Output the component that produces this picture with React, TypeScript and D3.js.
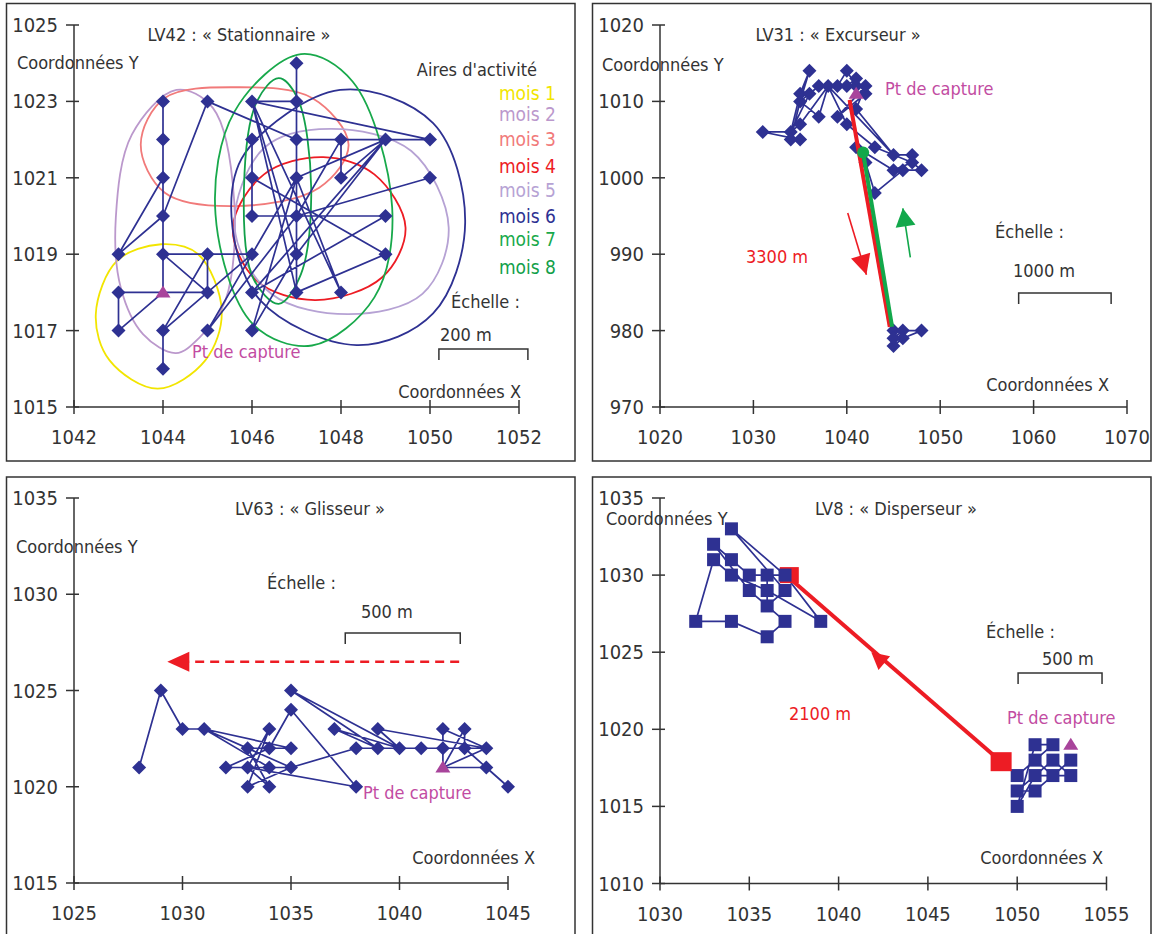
import React from 'react';
import * as d3 from 'd3';

type Pt = [number, number];

// ---------- LV42 : « Stationnaire » ----------
const lv42XTicks = [1042, 1044, 1046, 1048, 1050, 1052];
const lv42YTicks = [1015, 1017, 1019, 1021, 1023, 1025];
const lv42Capture: Pt = [1044, 1018];
const lv42Track: Pt[] = [
  [1044, 1016], [1044, 1017], [1045, 1019], [1045, 1018], [1043, 1018], [1043, 1017], [1044, 1018],
  [1044, 1019], [1045, 1018], [1044, 1017], [1046, 1019], [1044, 1019], [1044, 1020], [1043, 1019],
  [1044, 1021], [1044, 1022], [1044, 1023], [1044, 1020], [1045, 1023], [1047, 1022], [1049, 1022],
  [1050, 1022], [1046, 1023], [1047, 1023], [1047, 1024], [1047, 1018], [1049, 1019], [1046, 1021],
  [1046, 1022], [1046, 1020], [1049, 1020], [1046, 1018], [1049, 1022], [1047, 1019], [1046, 1023],
  [1048, 1018], [1047, 1021], [1049, 1022], [1048, 1021], [1048, 1022], [1047, 1020], [1050, 1021],
  [1047, 1020], [1045, 1017], [1047, 1021], [1046, 1017], [1047, 1019], [1046, 1023], [1047, 1018],
];
const lv42Months = ['mois 1', 'mois 2', 'mois 3', 'mois 4', 'mois 5', 'mois 6', 'mois 7', 'mois 8'];
// activity area outlines, one per month (data coordinates)
const lv42Areas: Pt[][] = [
  [[1043.96, 1019.26], [1044.79, 1019.0], [1045.32, 1017.52], [1044.95, 1016.22], [1043.88, 1015.48], [1042.8, 1016.22], [1042.49, 1017.43], [1042.97, 1018.83]],
  [[1044.3, 1023.3], [1045.12, 1022.83], [1045.6, 1020.39], [1045.4, 1017.78], [1044.83, 1016.83], [1044.29, 1016.41], [1043.55, 1016.91], [1043.05, 1018.13], [1042.94, 1019.96], [1043.3, 1022.13]],
  [[1043.5, 1021.87], [1044.04, 1023.09], [1045.69, 1023.37], [1047.35, 1023.09], [1048.17, 1021.87], [1047.51, 1020.74], [1045.61, 1020.26], [1044.04, 1020.61]],
  [[1045.57, 1019.7], [1046.27, 1021.09], [1047.6, 1021.54], [1048.75, 1021.09], [1049.45, 1019.7], [1048.92, 1018.39], [1047.43, 1017.8], [1046.11, 1018.3]],
  [[1045.61, 1019.7], [1046.27, 1021.78], [1047.76, 1022.28], [1049.58, 1021.7], [1050.42, 1019.7], [1049.83, 1017.96], [1048.17, 1017.43], [1046.44, 1017.96]],
  [[1045.54, 1019.98], [1045.84, 1021.64], [1047.98, 1023.3], [1050.07, 1022.43], [1050.79, 1019.82], [1050.07, 1017.45], [1048.35, 1016.62], [1046.18, 1017.8]],
  [[1047.1, 1024.24], [1048.26, 1023.52], [1049.15, 1020.22], [1048.75, 1017.87], [1047.35, 1016.61], [1046.02, 1017.17], [1045.18, 1020.04], [1045.61, 1022.74]],
  [[1046.6, 1023.61], [1047.02, 1023.09], [1047.33, 1020.74], [1047.1, 1018.48], [1046.6, 1017.7], [1046.02, 1018.39], [1045.82, 1020.74], [1046.11, 1023.0]],
];

// ---------- LV31 : « Excurseur » ----------
const lv31XTicks = [1020, 1030, 1040, 1050, 1060, 1070];
const lv31YTicks = [970, 980, 990, 1000, 1010, 1020];
const lv31Capture: Pt = [1041, 1011];
const lv31TrackNorth: Pt[] = [
  [1041, 1012], [1040, 1014], [1039, 1012], [1037, 1012], [1035, 1010], [1036, 1014], [1035, 1011],
  [1034, 1006], [1031, 1006], [1035, 1005], [1034, 1005], [1035, 1010], [1037, 1008], [1038, 1012],
  [1035, 1007], [1034, 1006], [1036, 1011], [1037, 1012], [1040, 1012], [1041, 1013], [1042, 1011],
  [1039, 1008], [1042, 1012], [1041, 1009], [1045, 1003], [1047, 1003], [1047, 1002], [1045, 1001],
  [1041, 1004], [1042, 1002], [1043, 998], [1046, 1001], [1048, 1001], [1047, 1002], [1043, 1004],
  [1040, 1007], [1038, 1012], [1045, 1003],
];
const lv31TrackSouth: Pt[] = [[1045, 980], [1046, 980], [1048, 980], [1046, 979], [1045, 978], [1045, 979], [1046, 980]];
const lv31Outbound: Pt[] = [[1040.3, 1010.2], [1044.6, 980.5]];
const lv31Return: Pt[] = [[1044.85, 980.5], [1041.75, 1003.3]];
const lv31OutArrow: Pt[] = [[1040.1, 995.4], [1042.1, 987.3]];
const lv31BackArrow: Pt[] = [[1046.8, 989.6], [1046.0, 996.0]];
const lv31ScaleBar: Pt = [1058.4, 1068.3];

// ---------- LV63 : « Glisseur » ----------
const lv63XTicks = [1025, 1030, 1035, 1040, 1045];
const lv63YTicks = [1015, 1020, 1025, 1030, 1035];
const lv63Capture: Pt = [1042, 1021];
const lv63Track: Pt[] = [
  [1028, 1021], [1029, 1025], [1030, 1023], [1031, 1023], [1035, 1022], [1033, 1022], [1034, 1020],
  [1033, 1021], [1034, 1023], [1033, 1020], [1035, 1021], [1031, 1023], [1034, 1021], [1032, 1021],
  [1034, 1022], [1035, 1024], [1038, 1020], [1033, 1021], [1035, 1021], [1038, 1022], [1039, 1022],
  [1040, 1022], [1041, 1022], [1042, 1022], [1044, 1022], [1042, 1021], [1044, 1021], [1045, 1020],
  [1043, 1022], [1043, 1023], [1042, 1021], [1042, 1023], [1044, 1022], [1039, 1023], [1040, 1022],
  [1035, 1025], [1039, 1022], [1037, 1023], [1040, 1022],
];
const lv63Drift: Pt[] = [[1042.75, 1026.5], [1029.3, 1026.5]];
const lv63ScaleBar: Pt = [1037.5, 1042.8];

// ---------- LV8 : « Disperseur » ----------
const lv8XTicks = [1030, 1035, 1040, 1045, 1050, 1055];
const lv8YTicks = [1010, 1015, 1020, 1025, 1030, 1035];
const lv8Capture: Pt = [1053, 1019];
const lv8TrackNorth: Pt[] = [
  [1034, 1027], [1032, 1027], [1033, 1031], [1034, 1030], [1036, 1029], [1039, 1027], [1037, 1030],
  [1034, 1033], [1037, 1029], [1036, 1028], [1035, 1029], [1033, 1032], [1034, 1031], [1035, 1030],
  [1036, 1030], [1037, 1030], [1036, 1030], [1036, 1028], [1037, 1027], [1036, 1026], [1034, 1027],
];
const lv8TrackSouth: Pt[] = [
  [1049, 1018], [1050, 1017], [1051, 1018], [1052, 1017], [1053, 1018], [1051, 1016], [1050, 1016],
  [1052, 1018], [1053, 1017], [1051, 1017], [1050, 1015], [1051, 1019], [1052, 1019], [1051, 1018],
];
const lv8Dispersal: Pt[] = [[1049.1, 1017.9], [1037.1, 1030]];
const lv8ArrowTip: Pt = [1041.83, 1025.0];
const lv8ScaleBar: Pt = [1050.05, 1054.75];

// ---------- styles ----------
const FONT = "'DejaVu Sans Condensed', 'DejaVu Sans', sans-serif";
const INK = '#333333';
const NAVY = '#2e3192';
const MAG_MARK = '#a8449b';
const MAG_TEXT = '#c24ca2';
const RED = '#ed1c24';
const GREEN = '#12a84b';
const MONTH_COLORS = ['#f2e500', '#bb98cc', '#f17a7a', '#ed1c24', '#b6a2d4', '#2e3192', '#18a94b', '#12a04a'];
const MONTH_Y = [93, 114, 139, 166, 190, 216, 239, 267];

const DIAMOND = 'M0,-7L7,0L0,7L-7,0Z';
const TRIANGLE = 'M0,-7L7.5,5L-7.5,5Z';

type Scale = d3.ScaleLinear<number, number>;

const key = (p: Pt) => p.join(',');
const vertices = (tracks: Pt[][], skip: Pt[]) => {
  const seen = new Set(skip.map(key));
  const out: Pt[] = [];
  tracks.flat().forEach(p => {
    if (!seen.has(key(p))) { seen.add(key(p)); out.push(p); }
  });
  return out;
};

function Axes({ x, y, xTicks, yTicks }: { x: Scale; y: Scale; xTicks: number[]; yTicks: number[] }) {
  const ax = x(xTicks[0]);
  const ay = y(yTicks[0]);
  return (
    <g stroke={INK} strokeWidth={1.5}>
      <line x1={ax} x2={x(xTicks[xTicks.length - 1])} y1={ay} y2={ay} />
      <line x1={ax} x2={ax} y1={y(yTicks[yTicks.length - 1])} y2={ay} />
      {xTicks.map(t => (
        <g key={'x' + t}>
          <line x1={x(t)} x2={x(t)} y1={ay - 7} y2={ay + 7} />
          <text x={x(t)} y={ay + 37} textAnchor="middle" fontSize={20} fill={INK} stroke="none">{t}</text>
        </g>
      ))}
      {yTicks.map(t => (
        <g key={'y' + t}>
          <line x1={ax - 8} x2={ax + 5} y1={y(t)} y2={y(t)} />
          <text x={ax - 16} y={y(t) + 7} textAnchor="end" fontSize={20} fill={INK} stroke="none">{t}</text>
        </g>
      ))}
    </g>
  );
}

function ScaleBar({ x0, x1, y }: { x0: number; x1: number; y: number }) {
  return (
    <path d={`M${x0},${y + 11}V${y}H${x1}V${y + 11}`} fill="none" stroke={INK} strokeWidth={1.5} />
  );
}

function Head({ tip, from, len, half, fill }: { tip: Pt; from: Pt; len: number; half: number; fill: string }) {
  const dx = tip[0] - from[0];
  const dy = tip[1] - from[1];
  const d = Math.hypot(dx, dy);
  const ux = dx / d, uy = dy / d;
  const bx = tip[0] - ux * len, by = tip[1] - uy * len;
  return <polygon points={`${tip[0]},${tip[1]} ${bx - uy * half},${by + ux * half} ${bx + uy * half},${by - ux * half}`} fill={fill} />;
}

const Frame = ({ x0, y0, x1, y1 }: { x0: number; y0: number; x1: number; y1: number }) => (
  <rect x={x0} y={y0} width={x1 - x0} height={y1 - y0} fill="none" stroke={INK} strokeWidth={1.5} />
);

function trackPath(x: Scale, y: Scale) {
  return d3.line<Pt>().x(d => x(d[0])).y(d => y(d[1]));
}

const Diamonds = ({ pts, x, y }: { pts: Pt[]; x: Scale; y: Scale }) => (
  <g fill={NAVY}>
    {pts.map((p, i) => <path key={i} d={DIAMOND} transform={`translate(${x(p[0])},${y(p[1])})`} />)}
  </g>
);

function PanelLV42() {
  const x = d3.scaleLinear().domain([1042, 1052]).range([74, 519]);
  const y = d3.scaleLinear().domain([1015, 1025]).range([407, 25]);
  const line = trackPath(x, y);
  const area = d3.line<Pt>().x(d => x(d[0])).y(d => y(d[1])).curve(d3.curveCatmullRomClosed.alpha(0.5));
  return (
    <g>
      <Frame x0={6.5} y0={3.5} x1={575} y1={461} />
      <Axes x={x} y={y} xTicks={lv42XTicks} yTicks={lv42YTicks} />
      {lv42Areas.map((a, i) => (
        <path key={i} d={area(a) || ''} fill="none" stroke={MONTH_COLORS[i]} strokeWidth={1.8} />
      ))}
      <path d={line(lv42Track) || ''} fill="none" stroke={NAVY} strokeWidth={1.7} strokeLinejoin="round" />
      <Diamonds pts={vertices([lv42Track], [lv42Capture])} x={x} y={y} />
      <path d={TRIANGLE} fill={MAG_MARK} transform={`translate(${x(lv42Capture[0])},${y(lv42Capture[1])})`} />
      <text x={239} y={41} textAnchor="middle" fontSize={18}>LV42 : « Stationnaire »</text>
      <text x={17} y={69} fontSize={18}>Coordonnées Y</text>
      <text x={537} y={76} textAnchor="end" fontSize={18}>Aires d'activité</text>
      {lv42Months.map((m, i) => (
        <text key={m} x={556} y={MONTH_Y[i] + 7} textAnchor="end" fontSize={19} fill={MONTH_COLORS[i]}>{m}</text>
      ))}
      <text x={192} y={358} fontSize={18} fill={MAG_TEXT}>Pt de capture</text>
      <text x={451} y={308} fontSize={18}>Échelle :</text>
      <text x={440} y={341} fontSize={18}>200 m</text>
      <ScaleBar x0={x(1050.2)} x1={x(1052.2)} y={349} />
      <text x={521} y={398} textAnchor="end" fontSize={18}>Coordonnées X</text>
    </g>
  );
}

function PanelLV31() {
  const x = d3.scaleLinear().domain([1020, 1070]).range([660, 1127]);
  const y = d3.scaleLinear().domain([970, 1020]).range([407, 25]);
  const line = trackPath(x, y);
  const P = (p: Pt): Pt => [x(p[0]), y(p[1])];
  return (
    <g>
      <Frame x0={592.5} y0={3.5} x1={1151} y1={461} />
      <Axes x={x} y={y} xTicks={lv31XTicks} yTicks={lv31YTicks} />
      <path d={line(lv31TrackNorth) || ''} fill="none" stroke={NAVY} strokeWidth={1.7} strokeLinejoin="round" />
      <path d={line(lv31TrackSouth) || ''} fill="none" stroke={NAVY} strokeWidth={1.7} strokeLinejoin="round" />
      <Diamonds pts={vertices([lv31TrackNorth, lv31TrackSouth], [lv31Capture])} x={x} y={y} />
      <path d={line(lv31Outbound) || ''} stroke={RED} strokeWidth={4} />
      <path d={line(lv31Return) || ''} stroke={GREEN} strokeWidth={4} />
      <circle cx={x(lv31Return[1][0])} cy={y(lv31Return[1][1])} r={6} fill={GREEN} />
      <path d={TRIANGLE} fill={MAG_MARK} transform={`translate(${x(lv31Capture[0])},${y(lv31Capture[1])})`} />
      <line x1={P(lv31OutArrow[0])[0]} y1={P(lv31OutArrow[0])[1]} x2={P(lv31OutArrow[1])[0]} y2={P(lv31OutArrow[1])[1]} stroke={RED} strokeWidth={1.6} />
      <Head tip={P(lv31OutArrow[1])} from={P(lv31OutArrow[0])} len={20} half={10} fill={RED} />
      <line x1={P(lv31BackArrow[0])[0]} y1={P(lv31BackArrow[0])[1]} x2={P(lv31BackArrow[1])[0]} y2={P(lv31BackArrow[1])[1]} stroke={GREEN} strokeWidth={1.6} />
      <Head tip={P(lv31BackArrow[1])} from={P(lv31BackArrow[0])} len={18} half={10} fill={GREEN} />
      <text x={838} y={41} textAnchor="middle" fontSize={18}>LV31 : « Excurseur »</text>
      <text x={602} y={71} fontSize={18}>Coordonnées Y</text>
      <text x={885} y={95} fontSize={18} fill={MAG_TEXT}>Pt de capture</text>
      <text x={746} y={263} fontSize={18} fill={RED}>3300 m</text>
      <text x={995} y={238} fontSize={18}>Échelle :</text>
      <text x={1013} y={277} fontSize={18}>1000 m</text>
      <ScaleBar x0={x(lv31ScaleBar[0])} x1={x(lv31ScaleBar[1])} y={293} />
      <text x={1109} y={391} textAnchor="end" fontSize={18}>Coordonnées X</text>
    </g>
  );
}

function PanelLV63() {
  const x = d3.scaleLinear().domain([1025, 1045]).range([74, 508]);
  const y = d3.scaleLinear().domain([1015, 1035]).range([883, 498]);
  const line = trackPath(x, y);
  const tail: Pt = [x(lv63Drift[0][0]), y(lv63Drift[0][1])];
  const tip: Pt = [x(lv63Drift[1][0]), y(lv63Drift[1][1])];
  return (
    <g>
      <Frame x0={6.5} y0={477} x1={575} y1={945} />
      <Axes x={x} y={y} xTicks={lv63XTicks} yTicks={lv63YTicks} />
      <path d={line(lv63Track) || ''} fill="none" stroke={NAVY} strokeWidth={1.7} strokeLinejoin="round" />
      <Diamonds pts={vertices([lv63Track], [lv63Capture])} x={x} y={y} />
      <path d={TRIANGLE} fill={MAG_MARK} transform={`translate(${x(lv63Capture[0])},${y(lv63Capture[1])})`} />
      <line x1={tail[0]} y1={tail[1]} x2={tip[0] + 20} y2={tip[1]} stroke={RED} strokeWidth={2.5} strokeDasharray="9,6" />
      <Head tip={tip} from={tail} len={22} half={10} fill={RED} />
      <text x={310} y={515} textAnchor="middle" fontSize={18}>LV63 : « Glisseur »</text>
      <text x={16} y={553} fontSize={18}>Coordonnées Y</text>
      <text x={267} y={589} fontSize={18}>Échelle :</text>
      <text x={361} y={618} fontSize={18}>500 m</text>
      <ScaleBar x0={x(lv63ScaleBar[0])} x1={x(lv63ScaleBar[1])} y={633} />
      <text x={363} y={799} fontSize={18} fill={MAG_TEXT}>Pt de capture</text>
      <text x={535} y={864} textAnchor="end" fontSize={18}>Coordonnées X</text>
    </g>
  );
}

function PanelLV8() {
  const x = d3.scaleLinear().domain([1030, 1055]).range([660, 1106.5]);
  const y = d3.scaleLinear().domain([1010, 1035]).range([883.5, 498]);
  const line = trackPath(x, y);
  const from: Pt = [x(lv8Dispersal[0][0]), y(lv8Dispersal[0][1])];
  const to: Pt = [x(lv8Dispersal[1][0]), y(lv8Dispersal[1][1])];
  const squares = vertices([lv8TrackNorth, lv8TrackSouth], [lv8Capture, lv8TrackSouth[0]]);
  return (
    <g>
      <Frame x0={592.5} y0={477} x1={1151} y1={945} />
      <Axes x={x} y={y} xTicks={lv8XTicks} yTicks={lv8YTicks} />
      <path d={line(lv8TrackNorth) || ''} fill="none" stroke={NAVY} strokeWidth={1.7} strokeLinejoin="round" />
      <path d={line(lv8TrackSouth) || ''} fill="none" stroke={NAVY} strokeWidth={1.7} strokeLinejoin="round" />
      <rect x={to[0] - 7} y={to[1] - 8} width={19} height={16} fill={RED} />
      <g fill={NAVY}>
        {squares.map((p, i) => <rect key={i} x={x(p[0]) - 6.5} y={y(p[1]) - 6.5} width={13} height={13} />)}
      </g>
      <line x1={from[0]} y1={from[1]} x2={to[0] + 6} y2={to[1] + 6} stroke={RED} strokeWidth={4} />
      <Head tip={[x(lv8ArrowTip[0]), y(lv8ArrowTip[1])]} from={from} len={17} half={9} fill={RED} />
      <rect x={from[0] - 10.5} y={from[1] - 9.5} width={21} height={19} fill={RED} />
      <path d={TRIANGLE} fill={MAG_MARK} transform={`translate(${x(lv8Capture[0])},${y(lv8Capture[1])})`} />
      <text x={896} y={515} textAnchor="middle" fontSize={18}>LV8 : « Disperseur »</text>
      <text x={606} y={525} fontSize={18}>Coordonnées Y</text>
      <text x={986} y={638} fontSize={18}>Échelle :</text>
      <text x={1042} y={665} fontSize={18}>500 m</text>
      <ScaleBar x0={x(lv8ScaleBar[0])} x1={x(lv8ScaleBar[1])} y={673} />
      <text x={789} y={720} fontSize={18} fill={RED}>2100 m</text>
      <text x={1007} y={724} fontSize={18} fill={MAG_TEXT}>Pt de capture</text>
      <text x={1103} y={864} textAnchor="end" fontSize={18}>Coordonnées X</text>
    </g>
  );
}

export default function App() {
  return (
    <>
      <style>{'body{margin:0;background:#fff}'}</style>
      <svg width={1152} height={934} style={{ display: 'block', fontFamily: FONT, fontStretch: 'condensed' }} fill={INK}>
        <rect width={1152} height={934} fill="#fff" />
        <PanelLV42 />
        <PanelLV31 />
        <PanelLV63 />
        <PanelLV8 />
      </svg>
    </>
  );
}
